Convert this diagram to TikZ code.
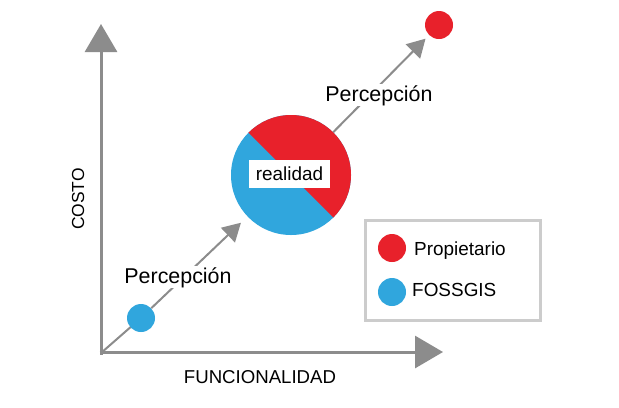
\documentclass[tikz,border=0pt]{standalone}
\usepackage{fontspec}
\setmainfont{Liberation Sans}
\usetikzlibrary{arrows.meta}
\definecolor{cred}{HTML}{E8212B}
\definecolor{cblue}{HTML}{30A6DD}
\definecolor{cgray}{HTML}{8C8C8C}
\definecolor{lgray}{HTML}{CCCCCC}
\begin{document}
\begin{tikzpicture}[x=1bp,y=-1bp,
  axis/.style={draw=cgray,line width=3bp,-{Triangle[length=28bp,width=32bp]},color=cgray},
  diag/.style={draw=cgray,line width=2bp},
  diagarrow/.style={diag,-{Triangle[length=18bp,width=20bp]}},
  dot/.style={circle,minimum size=28bp,inner sep=0pt,draw=none},
  lbl/.style={font=\fontsize{21.5}{24}\selectfont,fill=white,inner sep=1bp},
  legtxt/.style={font=\fontsize{19}{22}\selectfont,anchor=base west,inner sep=0pt},
]
\useasboundingbox (0,0) rectangle (619,407);
\fill[white] (0,0) rectangle (619,407);
% axes
\coordinate (O) at (101,353);
\coordinate (ytop) at (101,24);
\coordinate (xend) at (443,352);
\coordinate (ybot) at (101,354.5);
\coordinate (xbeg) at (99.5,352);
\draw[axis] (ybot) -- (ytop);
\draw[axis] (xbeg) -- (xend);
% nodes
\node[circle,minimum size=28bp,inner sep=0pt] (fos) at (141,318) {};
\node[circle,minimum size=120bp,inner sep=0pt] (big) at (291,175) {};
\node[dot,fill=cred] (prop) at (439,25) {};
% diagonal connectors
\draw[diag] (O) -- (fos.center);
\node[dot,fill=cblue] (fosdot) at (fos) {};
\draw[diagarrow,shorten >=9bp] (fos) -- (big);
\draw[diagarrow,shorten >=5bp] (big) -- (prop);
% big split circle
\fill[cblue] (big.center) circle[radius=60bp];
\begin{scope}
  \clip (191,75) -- (391,275) -- (391,75) -- cycle;
  \fill[cred] (big.center) circle[radius=60bp];
\end{scope}
\node[fill=white,minimum width=81bp,minimum height=28bp,inner sep=0pt,
  font=\fontsize{19}{22}\selectfont] (real) at (289.5,174) {realidad};
% labels
\node[lbl,anchor=base] (p1) at (178,283) {Percepción};
\node[lbl,anchor=base] (p2) at (379,101) {Percepción};
% axis labels
\node[font=\fontsize{18.7}{22}\selectfont,anchor=base] (xl) at (260,383) {FUNCIONALIDAD};
\node[font=\fontsize{17.5}{20}\selectfont,rotate=90] (yl) at (78,199) {COSTO};
% legend
\node[draw=lgray,line width=3bp,minimum width=175bp,minimum height=100bp,inner sep=0pt] (leg) at (452.5,270) {};
\node[dot,fill=cred] (lr) at (392,248) {};
\node[dot,fill=cblue] (lb) at (392,292) {};
\node[legtxt] (tr) at (414,255) {Propietario};
\node[legtxt] (tb) at (412,296) {FOSSGIS};
\end{tikzpicture}
\end{document}
